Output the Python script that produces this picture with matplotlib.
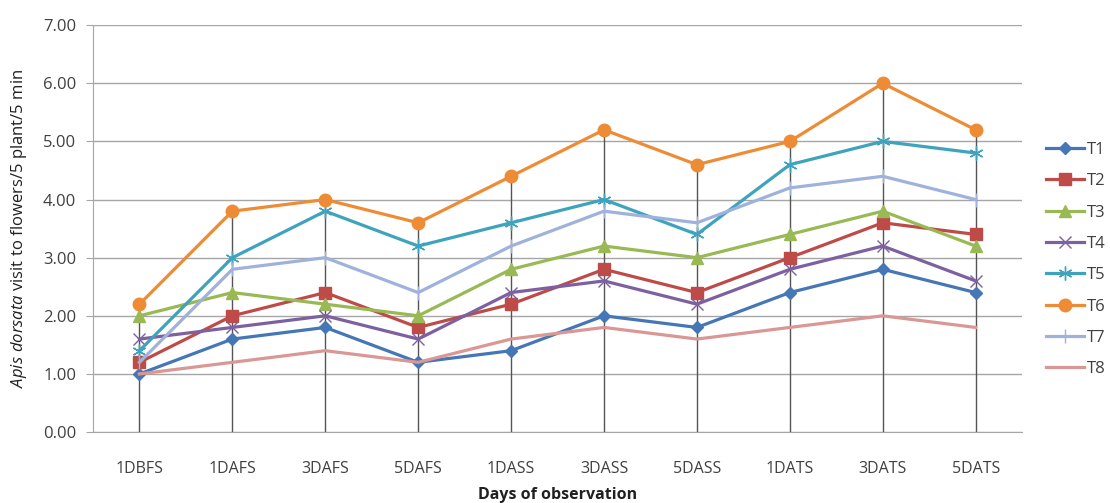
"""Apis dorsata visits per treatment over days of observation"""

import numpy as np
import matplotlib.pyplot as plt

plt.rcParams["font.family"] = ["Open Sans", "DejaVu Sans"]
plt.rcParams["mathtext.fontset"] = "custom"
plt.rcParams["mathtext.it"] = "Open Sans:italic"
plt.rcParams["mathtext.rm"] = "Open Sans"

days = ["1DBFS", "1DAFS", "3DAFS", "5DAFS", "1DASS",
        "3DASS", "5DASS", "1DATS", "3DATS", "5DATS"]

t1 = [1.0, 1.6, 1.8, 1.2, 1.4, 2.0, 1.8, 2.4, 2.8, 2.4]
t2 = [1.2, 2.0, 2.4, 1.8, 2.2, 2.8, 2.4, 3.0, 3.6, 3.4]
t3 = [2.0, 2.4, 2.2, 2.0, 2.8, 3.2, 3.0, 3.4, 3.8, 3.2]
t4 = [1.6, 1.8, 2.0, 1.6, 2.4, 2.6, 2.2, 2.8, 3.2, 2.6]
t5 = [1.4, 3.0, 3.8, 3.2, 3.6, 4.0, 3.4, 4.6, 5.0, 4.8]
t6 = [2.2, 3.8, 4.0, 3.6, 4.4, 5.2, 4.6, 5.0, 6.0, 5.2]
t7 = [1.2, 2.8, 3.0, 2.4, 3.2, 3.8, 3.6, 4.2, 4.4, 4.0]
t8 = [1.0, 1.2, 1.4, 1.2, 1.6, 1.8, 1.6, 1.8, 2.0, 1.8]

series = {"T1": t1, "T2": t2, "T3": t3, "T4": t4,
          "T5": t5, "T6": t6, "T7": t7, "T8": t8}

styles = {
    "T1": dict(color="#4576B5", marker="D", ms=6),
    "T2": dict(color="#BE4B48", marker="s", ms=9),
    "T3": dict(color="#98B954", marker="^", ms=9),
    "T4": dict(color="#7D60A0", marker="x", ms=8, mew=1.0),
    "T5": dict(color="#3FA3BD", marker=(6, 2, 0), ms=10, mew=1.0),
    "T6": dict(color="#EE8C35", marker="o", ms=9),
    "T7": dict(color="#9EB2DC", marker="|", ms=10, mew=1.0),
    "T8": dict(color="#D99795", marker="None"),
}

fig = plt.figure(figsize=(11.1, 5.03), dpi=100)
ax = fig.add_axes([0.0838, 0.141, 0.837, 0.809])

x = np.arange(len(days))

# drop lines from the top series down to the axis
top = np.max(np.array(list(series.values())), axis=0)
ax.vlines(x, 0, top, color="#555555", lw=1.0, zorder=1)

for name, vals in series.items():
    ax.plot(x, vals, lw=2.3, label=name, zorder=3, **styles[name])

ax.set_ylim(0, 7)
ax.set_xlim(-0.5, len(days) - 0.5)
ax.set_yticks(np.arange(0, 8, 1))
ax.set_yticklabels([f"{v:.2f}" for v in np.arange(0, 8, 1)])
ax.set_xticks(x)
ax.set_xticklabels(days)
ax.yaxis.grid(True, color="#A6A6A6", lw=1.0)
ax.set_axisbelow(True)

for side in ["top", "right"]:
    ax.spines[side].set_visible(False)
for side in ["left", "bottom"]:
    ax.spines[side].set_color("#A6A6A6")

ax.tick_params(axis="x", length=0, pad=21, labelsize=11.5, labelcolor="#404040")
ax.tick_params(axis="y", length=5, color="#A6A6A6", labelsize=12,
               labelcolor="#404040", pad=7)

ax.set_ylabel(r"$\mathit{Apis\ dorsata}$ visit to flowers/5 plant/5 min",
              fontsize=12, color="#202020", labelpad=10)
ax.set_xlabel("Days of observation", fontsize=11.5, fontweight="bold",
              color="#202020", labelpad=7)

fig.legend(loc="upper left", bbox_to_anchor=(0.942, 0.718), frameon=False,
           fontsize=12, handlelength=2.3, labelspacing=0.92, handletextpad=0.2,
           borderpad=0, borderaxespad=0, labelcolor="#404040")

fig.savefig("out.png", dpi=100)
